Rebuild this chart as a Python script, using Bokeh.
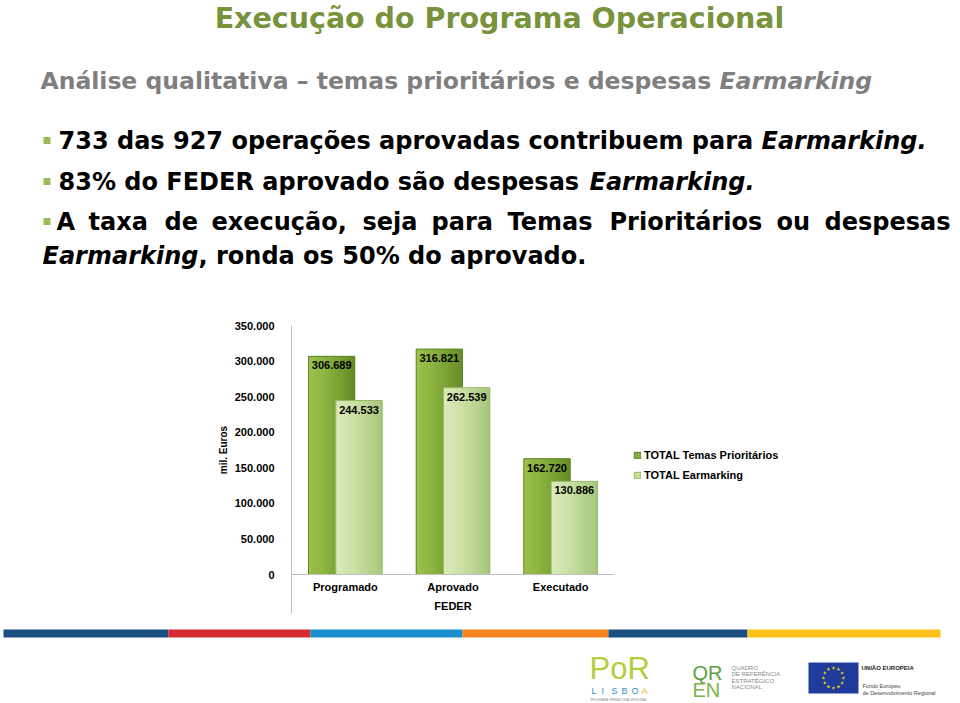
import math
from bokeh.plotting import figure
from bokeh.models import (FactorRange, Range1d, FixedTicker, Legend, LegendItem,
                          ColumnDataSource)
from bokeh.transform import dodge
from bokeh.embed import file_html
from bokeh.resources import INLINE
from bokeh.core.properties import value

# ---------------- data ----------------
categories = ["Programado", "Aprovado", "Executado"]
temas_prioritarios = [306689, 316821, 162720]
earmarking = [244533, 262539, 130886]
y_ticks = [0, 50000, 100000, 150000, 200000, 250000, 300000, 350000]
series_names = ["TOTAL Temas Prioritários", "TOTAL Earmarking"]


def fmt(v):
    return f"{v:,}".replace(",", ".")


W, H = 960, 703
FL, FR, FT, FB = 291, 614, 325, 574   # chart frame edges on the page
SLIDE = "DejaVu Sans"
ARIAL = "Liberation Sans"
DARK, DARK_LINE = "#86ad3b", "#5f8424"
LIGHT, LIGHT_LINE = "#c3dc9a", "#98b86a"

# ================= slide background (texts, stripe, logos, legend) =================
deco = figure(width=W, height=H, x_range=Range1d(0, W), y_range=Range1d(H, 0),
              output_backend="svg", toolbar_location=None, min_border=0,
              x_axis_location=None, y_axis_location=None, outline_line_color=None)
deco.grid.visible = False


def txt(x, y, s, size, color="black", style="bold", align="left", font=SLIDE):
    deco.text(x=[x], y=[y], text=[s], text_font=value(font), text_font_size=f"{size}px",
              text_font_style=style, text_color=color, text_align=align,
              text_baseline="middle")


def rect(l, r, t, b, color):
    deco.quad(left=[l], right=[r], top=[t], bottom=[b], fill_color=color, line_color=None)


txt(499, 17.5, "Execução do Programa Operacional", 28.5, "#77933c", align="center")
txt(40, 80, "Análise qualitativa – temas prioritários e despesas", 23.5, "#7f7f7f")
txt(719, 80, "Earmarking", 23.5, "#7f7f7f", style="bold italic")

for yb in [140, 181, 221]:
    rect(43, 50, yb - 3.5, yb + 3.5, "#9bbb59")

txt(58, 140, "733 das 927 operações aprovadas contribuem para", 24)
txt(761, 140, "Earmarking.", 24, style="bold italic")
txt(58, 181, "83% do FEDER aprovado são despesas", 24)
txt(589, 181, "Earmarking.", 24, style="bold italic")
for w, x in [("A", 56), ("taxa", 88), ("de", 164), ("execução,", 211), ("seja", 362),
             ("para", 431), ("Temas", 507), ("Prioritários", 609), ("ou", 776)]:
    txt(x, 221, w, 24)
txt(950, 221, "despesas", 24, align="right")
txt(42, 255, "Earmarking", 24, style="bold italic")
txt(198, 255, ", ronda os 50% do aprovado.", 24)

# vertical axis line continuing through the category label area
rect(FL - 0.5, FL + 0.5, FB, FB + 39, "#bfbfbf")

# legend (swatches share the series colours)
lg_tp = deco.vbar(x=[0], top=[0], bottom=[0], width=0, fill_color=DARK,
                  line_color=DARK_LINE)
lg_em = deco.vbar(x=[0], top=[0], bottom=[0], width=0, fill_color=LIGHT,
                  line_color=LIGHT_LINE)
legend = Legend(items=[LegendItem(label=series_names[0], renderers=[lg_tp]),
                       LegendItem(label=series_names[1], renderers=[lg_em])],
                location=(633, 218), glyph_width=8, glyph_height=8,
                label_standoff=3, padding=0, spacing=0, margin=0,
                border_line_color=None, background_fill_alpha=0, label_height=20,
                label_text_font=ARIAL, label_text_font_size="11px",
                label_text_font_style="bold", label_text_color="black")
deco.add_layout(legend)

# coloured stripe
stripe_x = [3, 168, 310, 462, 608, 747, 940]
stripe_c = ["#1b4f82", "#d42a30", "#1c8fd1", "#f5821f", "#1b4f82", "#fdc11c"]
deco.quad(left=stripe_x[:-1], right=stripe_x[1:], top=[629] * 6, bottom=[637] * 6,
          fill_color=stripe_c, line_color=None)

# POR Lisboa
txt(589, 668, "PoR", 31, "#b3cd3b", style="normal", font=ARIAL)
for i, (ch, c) in enumerate(zip("LISBOA", ["#2d8fbf"] * 5 + ["#f2a81d"])):
    txt(591 + i * 10, 690, ch, 9, c, style="normal", font=ARIAL)
txt(590, 699, "PROGRAMA OPERACIONAL REGIONAL", 3, "#888888", style="normal", font=ARIAL)

# QREN
txt(692, 672, "QR", 20, "#5e9f43", style="normal", font=ARIAL)
txt(692, 689, "EN", 20, "#7cb34a", style="normal", font=ARIAL)
for i, s in enumerate(["QUADRO", "DE REFERÊNCIA", "ESTRATÉGICO", "NACIONAL"]):
    txt(731, 667 + i * 6.5, s, 6, "#8a8a8a", style="normal", font=ARIAL)

# EU flag
rect(808, 858, 662, 693, "#1f3c9c")
star_x = [833 + 10 * math.cos(2 * math.pi * k / 12) for k in range(12)]
star_y = [677.5 + 10 * math.sin(2 * math.pi * k / 12) for k in range(12)]
deco.scatter(x=star_x, y=star_y, marker="star", size=4, fill_color="#ffdd00",
             line_color=None)
txt(861, 667, "UNIÃO EUROPEIA", 6, "#222222", style="bold", font=ARIAL)
txt(862, 685, "Fundo Europeu", 5.5, "#444444", style="normal", font=ARIAL)
txt(862, 692, "de Desenvolvimento Regional", 5.5, "#444444", style="normal", font=ARIAL)

# ================= bar chart (overlaid on the slide) =================
src = ColumnDataSource(dict(
    cat=categories, tp=temas_prioritarios, em=earmarking,
    tp_lbl=[fmt(v) for v in temas_prioritarios],
    em_lbl=[fmt(v) for v in earmarking],
))

p = figure(frame_width=FR - FL, frame_height=FB - FT,
           x_range=FactorRange(factors=categories, range_padding=0),
           y_range=Range1d(0, 350000), output_backend="svg", toolbar_location=None,
           min_border_left=FL, min_border_right=W - FR, min_border_top=FT,
           min_border_bottom=H - FB, outline_line_color=None,
           background_fill_alpha=0, border_fill_alpha=0, margin=(-H, 0, 0, 0))
p.grid.visible = False


def hex2rgb(h):
    h = h.lstrip("#")
    return tuple(int(h[i:i + 2], 16) for i in (0, 2, 4))


def interp(stops, t):
    for (t0, c0), (t1, c1) in zip(stops[:-1], stops[1:]):
        if t0 <= t <= t1:
            a = (t - t0) / (t1 - t0) if t1 > t0 else 0
            r0, r1 = hex2rgb(c0), hex2rgb(c1)
            return "#%02x%02x%02x" % tuple(int(round(x0 + (x1 - x0) * a)) for x0, x1 in zip(r0, r1))
    return stops[-1][1]


BAR_W = 0.43
OFF = 0.127


def draw_bar(col, off, stops, mid_color, line_color, n=16):
    base = p.vbar(x=dodge("cat", off, range=p.x_range), top=col, width=BAR_W,
                  source=src, fill_color=mid_color, line_color=None)
    for i in range(n):
        t = (i + 0.5) / n
        p.vbar(x=dodge("cat", off - BAR_W / 2 + (i + 0.5) * BAR_W / n, range=p.x_range),
               top=col, width=BAR_W / n * 1.08, source=src,
               fill_color=interp(stops, t), line_color=None)
    p.vbar(x=dodge("cat", off, range=p.x_range), top=col, width=BAR_W, source=src,
           fill_alpha=0, line_color=line_color, line_width=1)
    return base


dark_stops = [(0.0, "#9cc14f"), (0.35, "#8cb440"), (1.0, "#648b26")]
light_stops = [(0.0, "#dcebbe"), (0.35, "#cde2a8"), (1.0, "#a7c67a")]

draw_bar("tp", -OFF, dark_stops, DARK, DARK_LINE)
draw_bar("em", OFF, light_stops, LIGHT, LIGHT_LINE)

for col, val_col, off in [("tp_lbl", "tp", -OFF), ("em_lbl", "em", OFF)]:
    p.text(x=dodge("cat", off, range=p.x_range), y=val_col, text=col, source=src,
           text_align="center", text_baseline="top", y_offset=5,
           text_font=value(ARIAL), text_font_size="11px", text_font_style="bold",
           text_color="black")

yax = p.yaxis[0]
yax.ticker = FixedTicker(ticks=y_ticks)
yax.major_label_overrides = {t: fmt(t) for t in y_ticks}
yax.minor_tick_line_color = None
yax.major_tick_line_color = None
yax.axis_line_color = "#bfbfbf"
yax.major_label_standoff = 11
yax.major_label_text_font = ARIAL
yax.major_label_text_font_size = "11px"
yax.major_label_text_font_style = "bold"
yax.major_label_text_color = "black"
yax.axis_label = "mil. Euros"
yax.axis_label_text_font = ARIAL
yax.axis_label_text_font_size = "10px"
yax.axis_label_text_font_style = "bold"
yax.axis_label_text_color = "black"
yax.axis_label_standoff = 3

xax = p.xaxis[0]
xax.major_tick_line_color = None
xax.minor_tick_line_color = None
xax.axis_line_color = "#bfbfbf"
xax.major_label_standoff = 0
xax.major_label_text_font = ARIAL
xax.major_label_text_font_size = "11px"
xax.major_label_text_font_style = "bold"
xax.major_label_text_color = "black"
xax.axis_label = "FEDER"
xax.axis_label_text_font = ARIAL
xax.axis_label_text_font_size = "11px"
xax.axis_label_text_font_style = "bold"
xax.axis_label_text_color = "black"
xax.axis_label_standoff = 4

open("out.html", "w").write(file_html([deco, p], INLINE))
